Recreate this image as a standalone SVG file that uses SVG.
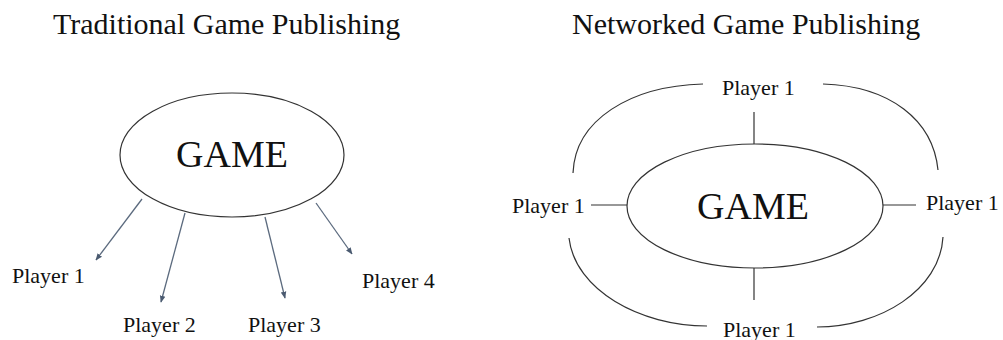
<svg xmlns="http://www.w3.org/2000/svg" width="1003" height="340" viewBox="0 0 1003 340">
<style>
text{font-family:"Liberation Serif","Times New Roman",serif;fill:#111}
.title{font-size:30px}
.game{font-size:38px;text-anchor:middle}
.pl{font-size:22px}
.node{fill:#fff;stroke:#333;stroke-width:1.2}
.arrow{stroke:#5b6a7e;stroke-width:1.3;fill:none}
.link{stroke:#333;stroke-width:1.2;fill:none}
</style>
<defs>
<marker id="ah" viewBox="0 0 10 10" refX="9" refY="5" markerWidth="7" markerHeight="7" orient="auto" markerUnits="userSpaceOnUse">
<path d="M0,1 L10,5 L0,9 z" fill="#4a5a70"/>
</marker>
</defs>
<rect width="1003" height="340" fill="#fff"/>
<text class="title" x="53" y="34">Traditional Game Publishing</text>
<text class="title" x="572" y="34">Networked Game Publishing</text>

<g id="connectors">
<line class="arrow" x1="142" y1="199" x2="96" y2="260" marker-end="url(#ah)"/>
<line class="arrow" x1="185" y1="213" x2="161" y2="302" marker-end="url(#ah)"/>
<line class="arrow" x1="265" y1="217" x2="285" y2="298" marker-end="url(#ah)"/>
<line class="arrow" x1="316" y1="203" x2="352" y2="254" marker-end="url(#ah)"/>
<line class="link" x1="754" y1="112" x2="754" y2="144"/>
<line class="link" x1="754" y1="268" x2="754" y2="300"/>
<line class="link" x1="591" y1="205" x2="627" y2="205"/>
<line class="link" x1="883" y1="205" x2="916" y2="205"/>
<path class="link" d="M703,84 C630,86 575,120 573,173"/>
<path class="link" d="M823,84 C890,86 933,120 938,170"/>
<path class="link" d="M569,238 C575,290 640,326 707,326"/>
<path class="link" d="M943,237 C940,290 880,327 817,327"/>
</g>

<g id="game-traditional">
<ellipse class="node" cx="232" cy="155" rx="112" ry="62"/>
<text class="game" x="232" y="167">GAME</text>
</g>
<g id="t-player1"><text class="pl" x="12" y="283">Player 1</text></g>
<g id="t-player2"><text class="pl" x="123" y="332">Player 2</text></g>
<g id="t-player3"><text class="pl" x="248" y="332">Player 3</text></g>
<g id="t-player4"><text class="pl" x="362" y="288">Player 4</text></g>

<g id="game-networked">
<ellipse class="node" cx="755" cy="206" rx="128" ry="62"/>
<text class="game" x="753" y="219">GAME</text>
</g>
<g id="n-player-top"><text class="pl" x="722" y="95">Player 1</text></g>
<g id="n-player-left"><text class="pl" x="512" y="213">Player 1</text></g>
<g id="n-player-right"><text class="pl" x="926" y="210">Player 1</text></g>
<g id="n-player-bottom"><text class="pl" x="723" y="337">Player 1</text></g>
</svg>
